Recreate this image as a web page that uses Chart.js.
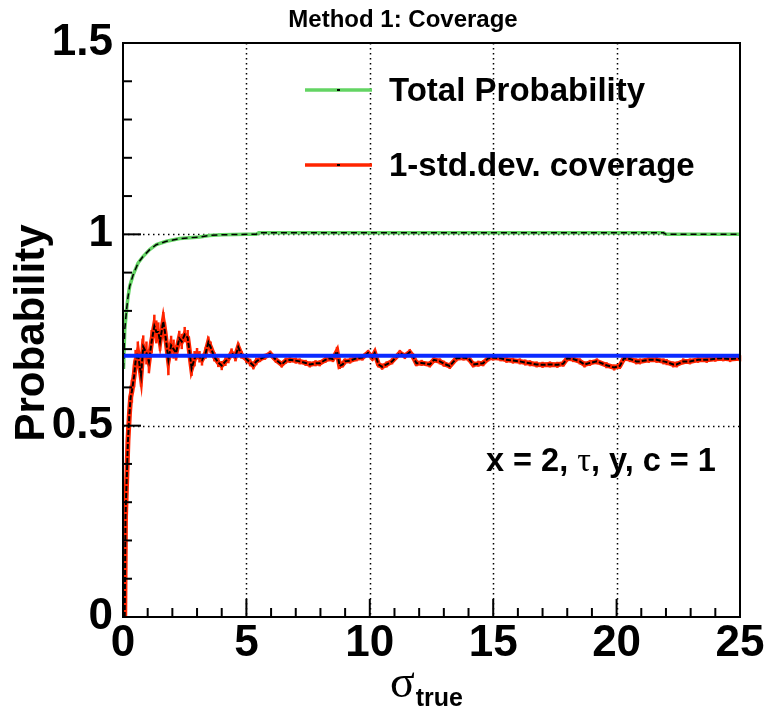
<!DOCTYPE html>
<html>
<head>
<meta charset="utf-8">
<script src="https://cdn.jsdelivr.net/npm/chart.js@4"></script>
<style>
  body { margin: 0; background: #fff; }
  #wrap { width: 768px; height: 713px; }
</style>
</head>
<body>
<div id="wrap"><canvas id="chartCoverage"></canvas></div>
<script>
// valores
const titulo = 'Method 1: Coverage';
const etiquetas = ['Total Probability', '1-std.dev. coverage'];

const xTotal = [0.02, 0.07, 0.14, 0.2, 0.27, 0.41, 0.61, 0.81, 1.08, 1.35, 1.76, 2.3, 3.1, 3.5, 4.0, 5.0, 5.4, 5.5, 8, 12, 16, 20, 21.9, 22.0, 25];
const yTotal = [0.648, 0.75, 0.80, 0.835, 0.864, 0.894, 0.925, 0.942, 0.96, 0.973, 0.982, 0.989, 0.993, 0.997, 0.999, 1.0, 1.0, 1.004, 1.004, 1.004, 1.004, 1.004, 1.004, 1.0, 1.0];

const xCob = [
  0.07, 0.1, 0.15, 0.2, 0.26, 0.31, 0.36, 0.45, 0.51, 0.6,
  0.73, 0.82, 0.95, 1.05, 1.16, 1.27, 1.35, 1.43, 1.5, 1.63,
  1.7, 1.84, 1.95, 2.05, 2.15, 2.28, 2.38, 2.5, 2.62, 2.78,
  2.9, 3.0, 3.1, 3.2, 3.35, 3.46, 3.55, 3.7, 3.86, 4.0,
  4.15, 4.27, 4.4, 4.55, 4.67, 4.8, 5.0, 5.15, 5.28, 5.4,
  5.55, 5.75, 5.96, 6.2, 6.43, 6.6, 6.76, 7.0, 7.16, 7.4,
  7.57, 7.8, 7.97, 8.2, 8.38, 8.5, 8.67, 8.78, 8.9, 8.99,
  9.2, 9.46, 9.7, 9.93, 10.1, 10.2, 10.35, 10.5, 10.68, 10.9,
  11.22, 11.42, 11.62, 11.75, 11.89, 12.1, 12.43, 12.6, 12.84, 13.0,
  13.24, 13.51, 13.8, 14.0, 14.19, 14.4, 14.59, 14.8, 15.0, 15.3,
  15.54, 15.8, 16.08, 16.3, 16.49, 16.76, 17.0, 17.3, 17.6, 17.84,
  18.0, 18.24, 18.51, 18.7, 18.92, 19.2, 19.59, 19.9, 20.13, 20.3,
  20.54, 20.8, 20.94, 21.3, 21.62, 21.9, 22.03, 22.3, 22.43, 22.7,
  22.97, 23.3, 23.65, 24.0, 24.32, 24.6, 25.0
];
const yCob = [
  0.0, 0.26, 0.36, 0.46, 0.53, 0.575, 0.59, 0.63, 0.668, 0.69,
  0.632, 0.706, 0.69, 0.667, 0.72, 0.76, 0.745, 0.745, 0.72, 0.772,
  0.745, 0.672, 0.71, 0.70, 0.69, 0.728, 0.72, 0.738, 0.73, 0.65,
  0.675, 0.688, 0.68, 0.672, 0.69, 0.718, 0.705, 0.68, 0.665, 0.657,
  0.668, 0.675, 0.69, 0.68, 0.705, 0.685, 0.674, 0.665, 0.657, 0.668,
  0.674, 0.68, 0.688, 0.672, 0.66, 0.67, 0.672, 0.67, 0.668, 0.664,
  0.66, 0.663, 0.663, 0.672, 0.676, 0.674, 0.694, 0.656, 0.66, 0.668,
  0.67, 0.676, 0.678, 0.69, 0.678, 0.69, 0.66, 0.654, 0.66, 0.668,
  0.69, 0.682, 0.692, 0.681, 0.663, 0.664, 0.66, 0.672, 0.668, 0.662,
  0.656, 0.676, 0.678, 0.676, 0.66, 0.662, 0.663, 0.676, 0.678, 0.676,
  0.672, 0.67, 0.668, 0.665, 0.663, 0.66, 0.659, 0.66, 0.659, 0.662,
  0.676, 0.674, 0.668, 0.66, 0.664, 0.668, 0.658, 0.652, 0.656, 0.676,
  0.674, 0.668, 0.668, 0.672, 0.672, 0.668, 0.666, 0.66, 0.66, 0.668,
  0.668, 0.672, 0.672, 0.675, 0.676, 0.674, 0.676
];
const errCob = [
  0.03, 0.04, 0.04, 0.04, 0.035, 0.03, 0.03, 0.03, 0.03, 0.03,
  0.03, 0.03, 0.03, 0.03, 0.03, 0.03, 0.03, 0.025, 0.025, 0.025,
  0.025, 0.04, 0.025, 0.025, 0.02, 0.02, 0.02, 0.02, 0.02, 0.02,
  0.02, 0.015, 0.015, 0.015, 0.015, 0.015, 0.015, 0.012, 0.012, 0.012,
  0.012, 0.012, 0.012, 0.012, 0.012, 0.01, 0.01, 0.01, 0.01, 0.01,
  0.008, 0.008, 0.008, 0.008, 0.008, 0.008, 0.008, 0.008, 0.008, 0.008,
  0.008, 0.008, 0.008, 0.008, 0.008, 0.008, 0.012, 0.008, 0.008, 0.008,
  0.008, 0.008, 0.008, 0.008, 0.008, 0.008, 0.008, 0.008, 0.008, 0.008,
  0.008, 0.008, 0.008, 0.008, 0.008, 0.008, 0.008, 0.008, 0.008, 0.008,
  0.008, 0.008, 0.008, 0.008, 0.008, 0.008, 0.008, 0.008, 0.008, 0.008,
  0.008, 0.008, 0.008, 0.008, 0.008, 0.008, 0.008, 0.008, 0.008, 0.008,
  0.008, 0.008, 0.008, 0.008, 0.008, 0.008, 0.008, 0.008, 0.008, 0.008,
  0.008, 0.008, 0.008, 0.008, 0.008, 0.008, 0.008, 0.008, 0.008, 0.008,
  0.008, 0.008, 0.008, 0.008, 0.008, 0.008, 0.008
];
const nivel1Sigma = 0.6827;
const xRango = [0, 25];

const VERDE = '#63d463';
const ROJO = '#ff2400';
const AZUL = '#0a2aff';
const FUENTE = '"Liberation Sans", Arial, Helvetica, sans-serif';

const puntos = (xs, ys) => xs.map((x, i) => ({ x: x, y: ys[i] }));

// barras de error, marco, ticks hacia adentro y grilla punteada (estilo ROOT)
const estiloRoot = {
  id: 'estiloRoot',
  beforeDatasetsDraw(chart) {
    const { ctx, chartArea: a, scales: { x, y } } = chart;
    ctx.save();
    ctx.strokeStyle = '#000';
    ctx.lineWidth = 1.5;
    ctx.setLineDash([1.5, 3.5]);
    [5, 10, 15, 20].forEach(v => {
      const px = Math.round(x.getPixelForValue(v)) + 0.5;
      ctx.beginPath(); ctx.moveTo(px, a.top); ctx.lineTo(px, a.bottom); ctx.stroke();
    });
    [0.5, 1].forEach(v => {
      const py = Math.round(y.getPixelForValue(v)) + 0.5;
      ctx.beginPath(); ctx.moveTo(a.left, py); ctx.lineTo(a.right, py); ctx.stroke();
    });
    ctx.setLineDash([]);
    // barras de error
    ctx.strokeStyle = ROJO;
    ctx.lineWidth = 2.5;
    xCob.forEach((xv, i) => {
      const px = x.getPixelForValue(xv);
      ctx.beginPath();
      ctx.moveTo(px, y.getPixelForValue(Math.max(0, yCob[i] - errCob[i])));
      ctx.lineTo(px, y.getPixelForValue(yCob[i] + errCob[i]));
      ctx.stroke();
    });
    ctx.restore();
  },
  afterDatasetsDraw(chart) {
    const { ctx, chartArea: a, scales: { x, y } } = chart;
    ctx.save();
    ctx.strokeStyle = '#000';
    ctx.lineWidth = 2;
    ctx.strokeRect(a.left, a.top, a.right - a.left, a.bottom - a.top);
    for (let k = 0; k <= 15; k++) {
      const py = y.getPixelForValue(k / 10);
      const largo = k % 5 === 0 ? 18 : 9;
      ctx.beginPath(); ctx.moveTo(a.left, py); ctx.lineTo(a.left + largo, py); ctx.stroke();
    }
    for (let k = 0; k <= 25; k++) {
      const px = x.getPixelForValue(k);
      const largo = k % 5 === 0 ? 18 : 9;
      ctx.beginPath(); ctx.moveTo(px, a.bottom); ctx.lineTo(px, a.bottom - largo); ctx.stroke();
    }

    // leyenda dentro del area
    const filas = [{ c: VERDE, y: 90 }, { c: ROJO, y: 165 }];
    filas.forEach((f, i) => {
      ctx.strokeStyle = f.c;
      ctx.lineWidth = 3.5;
      ctx.beginPath(); ctx.moveTo(305, f.y); ctx.lineTo(372, f.y); ctx.stroke();
      ctx.fillStyle = '#000';
      ctx.fillRect(337, f.y - 1, 3, 2);
      ctx.font = 'bold 33px ' + FUENTE;
      ctx.textBaseline = 'middle';
      ctx.textAlign = 'left';
      ctx.fillText(etiquetas[i], 389, f.y + 2);
    });

    // texto de parametros
    ctx.fillStyle = '#000';
    ctx.textBaseline = 'alphabetic';
    let tx = 486;
    const partes = [
      ['bold 32.5px ' + FUENTE, 'x = 2, '],
      ['34px "Liberation Serif", "DejaVu Serif", serif', 'τ'],
      ['bold 32.5px ' + FUENTE, ', y, c = 1']
    ];
    partes.forEach(p => {
      ctx.font = p[0];
      ctx.fillText(p[1], tx, 471);
      tx += ctx.measureText(p[1]).width;
    });

    // titulo
    ctx.font = 'bold 24px ' + FUENTE;
    ctx.textAlign = 'center';
    ctx.fillText(titulo, 403, 27);

    // titulo eje y
    ctx.save();
    ctx.translate(44, 333);
    ctx.rotate(-Math.PI / 2);
    ctx.font = 'bold 42px ' + FUENTE;
    ctx.textAlign = 'center';
    ctx.fillText('Probability', 0, 0);
    ctx.restore();

    // titulo eje x: sigma_true
    ctx.textAlign = 'left';
    ctx.font = '46px "Liberation Serif", "DejaVu Serif", serif';
    ctx.fillText('σ', 390, 697);
    const anchoS = ctx.measureText('σ').width;
    ctx.font = 'bold 25px ' + FUENTE;
    ctx.fillText('true', 390 + anchoS + 1, 706);
    ctx.restore();
  }
};

const ctx = document.getElementById('chartCoverage').getContext('2d');

const chartCobertura = new Chart(ctx, {
  type: 'line',
  data: {
    datasets: [
      {
        label: '1 sigma',
        data: puntos(xRango, [nivel1Sigma, nivel1Sigma]),
        borderColor: AZUL, borderWidth: 4, pointRadius: 0, order: 0
      },
      {
        label: etiquetas[1] + ' marcadores',
        data: puntos(xCob, yCob),
        borderColor: '#000', borderWidth: 2, borderDash: [5, 2], pointRadius: 0, order: 1
      },
      {
        label: etiquetas[1],
        data: puntos(xCob, yCob),
        borderColor: ROJO, borderWidth: 5, pointRadius: 0, order: 2
      },
      {
        label: etiquetas[0] + ' marcadores',
        data: puntos(xTotal, yTotal),
        borderColor: '#000', borderWidth: 1.5, borderDash: [6, 4], pointRadius: 0, order: 3
      },
      {
        label: etiquetas[0],
        data: puntos(xTotal, yTotal),
        borderColor: VERDE, borderWidth: 3.5, pointRadius: 0, order: 4
      }
    ]
  },
  options: {
    responsive: true,
    maintainAspectRatio: false,
    animation: false,
    layout: { padding: { top: 43, right: 28, left: 0, bottom: 0 } },
    plugins: { legend: { display: false }, tooltip: { enabled: false }, title: { display: false } },
    elements: { line: { tension: 0 } },
    scales: {
      x: {
        type: 'linear', min: 0, max: 25,
        grid: { display: false, drawTicks: false }, border: { display: false },
        ticks: { stepSize: 5, padding: 0, color: '#000', font: { family: FUENTE, size: 44, weight: 'bold' } },
        afterFit: (s) => { s.height = 96; }
      },
      y: {
        min: 0, max: 1.5,
        grid: { display: false, drawTicks: false }, border: { display: false },
        ticks: {
          stepSize: 0.5, padding: 10, color: '#000',
          font: { family: FUENTE, size: 44, weight: 'bold' },
          callback: (v) => String(+v.toFixed(1))
        },
        afterFit: (s) => { s.width = 123; }
      }
    }
  },
  plugins: [estiloRoot]
});
</script>
</body>
</html>
